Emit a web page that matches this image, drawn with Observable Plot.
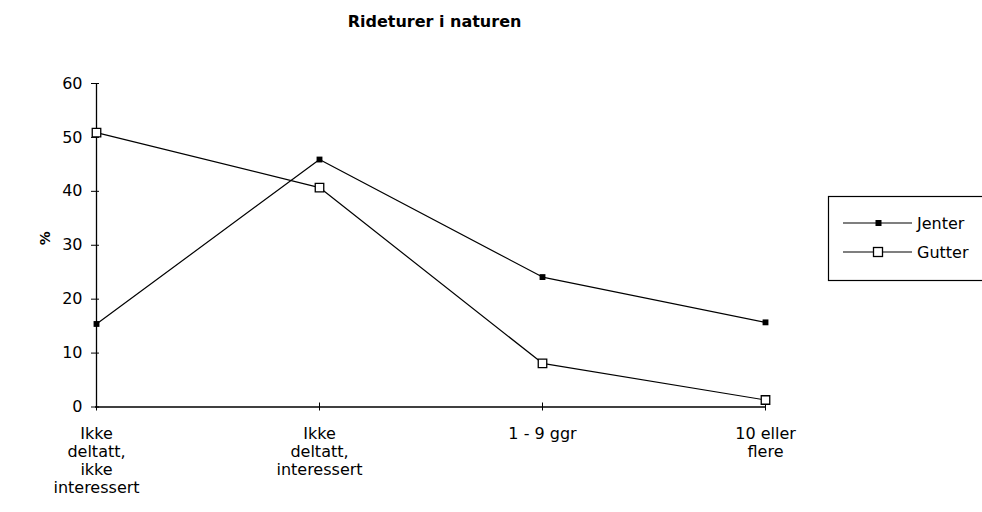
<!DOCTYPE html>
<html><head><meta charset="utf-8">
<script src="https://cdn.jsdelivr.net/npm/d3@7"></script>
<script src="https://cdn.jsdelivr.net/npm/@observablehq/plot@0.6"></script>
<style>body{margin:0;background:#fff}</style>
</head><body><div id="chart"></div>
<script>
const title = "Rideturer i naturen";
const categories = ["Ikke\ndeltatt,\nikke\ninteressert", "Ikke\ndeltatt,\ninteressert", "1 - 9 ggr", "10 eller\nflere"];
const jenter = [15.4, 45.9, 24.1, 15.7];
const gutter = [50.9, 40.7, 8.1, 1.3];
const yTicks = [0, 10, 20, 30, 40, 50, 60];
const seriesNames = ["Jenter", "Gutter"];

const rows = [];
categories.forEach((c, i) => {
  rows.push({cat: c, serie: "Jenter", v: jenter[i]});
  rows.push({cat: c, serie: "Gutter", v: gutter[i]});
});
const J = rows.filter(d => d.serie === "Jenter");
const G = rows.filter(d => d.serie === "Gutter");
const font = "DejaVu Sans";

const plot = Plot.plot({
  width: 982, height: 512,
  marginLeft: 95, marginRight: 217, marginTop: 83, marginBottom: 105.5,
  style: {fontFamily: font, fontSize: "16px", color: "#000", background: "#fff"},
  x: {type: "point", domain: categories, padding: 0},
  y: {domain: [0, 60]},
  marks: [
    Plot.ruleX([categories[0]], {stroke: "#000", strokeWidth: 1.3}),
    Plot.ruleY([0], {stroke: "#000", strokeWidth: 1.3}),
    Plot.axisY({ticks: yTicks, tickSize: 8, dx: 4, stroke: "#000", tickFormat: () => "", label: null}),
    Plot.axisY({ticks: yTicks, tickSize: 0, tickPadding: 13, fill: "#000", fontSize: 16, label: null}),
    Plot.axisX({tickSize: 8, dy: -4, stroke: "#000", tickFormat: () => "", label: null}),
    Plot.axisX({tickSize: 0, tickPadding: 19, fill: "#000", fontSize: 16, lineHeight: 1.125, label: null}),
    Plot.line(J, {x: "cat", y: "v", stroke: "#000", strokeWidth: 1.2}),
    Plot.line(G, {x: "cat", y: "v", stroke: "#000", strokeWidth: 1.2}),
    Plot.dot(J, {x: "cat", y: "v", symbol: "square", r: 3.3, fill: "#000", stroke: "none"}),
    Plot.dot(G, {x: "cat", y: "v", symbol: "square", r: 4.8, fill: "#fff", stroke: "#000", strokeWidth: 1.3}),
    Plot.text([title], {frameAnchor: "top", dy: -68, dx: 4, fontSize: 16, fontWeight: "bold", fill: "#000"}),
    Plot.text(["%"], {frameAnchor: "left", dx: -50, rotate: -90, fontSize: 14, fontWeight: "bold", fill: "#000"})
  ]
});
document.getElementById("chart").appendChild(plot);

// legend
const svg = d3.select(plot);
const lg = svg.append("g").attr("font-family", font).attr("font-size", 16).attr("text-anchor", "start");
lg.append("rect").attr("x", 828.5).attr("y", 196.5).attr("width", 160).attr("height", 84)
  .attr("fill", "none").attr("stroke", "#000").attr("stroke-width", 1.2);
seriesNames.forEach((name, i) => {
  const y = 223 + i * 29;
  lg.append("line").attr("x1", 843).attr("x2", 912).attr("y1", y).attr("y2", y).attr("stroke", "#000").attr("stroke-width", 1.2);
  if (i === 0) lg.append("rect").attr("x", 875.5).attr("y", y - 3).attr("width", 6).attr("height", 6).attr("fill", "#000");
  else lg.append("rect").attr("x", 873.5).attr("y", y - 4.5).attr("width", 9).attr("height", 9).attr("fill", "#fff").attr("stroke", "#000").attr("stroke-width", 1.3);
  lg.append("text").attr("x", 917).attr("y", y).attr("dy", "0.35em").attr("fill", "#000").text(name);
});
</script></body></html>
